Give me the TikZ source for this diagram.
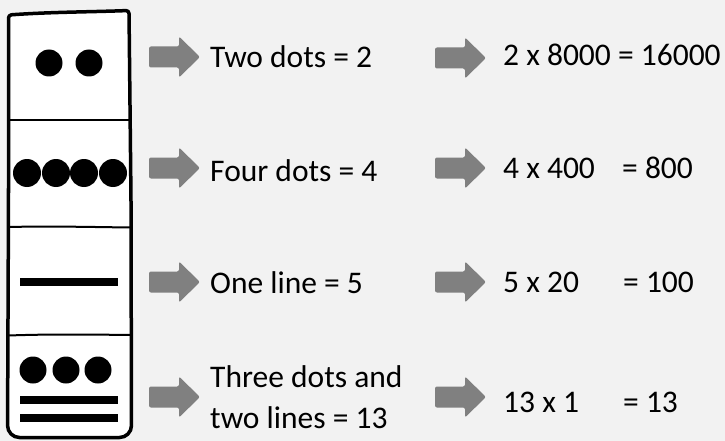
\documentclass[tikz,border=0pt]{standalone}
\usepackage{fontspec}
\setmainfont{Carlito}
\definecolor{bggray}{HTML}{F2F2F2}
\definecolor{arrgray}{HTML}{808080}
\tikzset{
  lbl/.style={anchor=base west, inner sep=0pt, font=\fontsize{31.5}{41}\selectfont},
  domline/.style={line width=3.5pt, line join=round},
  divline/.style={line width=2pt},
  bar/.style={line width=8pt},
  barrow/.pic={\fill[arrgray, rounded corners=2pt] (0,-10.5) -- (30,-10.5) -- (30,-20.5) -- (51,0) -- (30,20.5) -- (30,10.5) -- (0,10.5) -- cycle;}
}
\begin{document}
\begin{tikzpicture}[x=1pt,y=-1pt]
\fill[bggray] (0,0) rectangle (725,441);
\useasboundingbox (0,0) rectangle (725,441);
% domino
\draw[domline, fill=white] (8.5,200) [rounded corners=3pt] -- (8.5,15) .. controls (50,12) and (90,12) .. (129,10.5) -- (131,200) [rounded corners=12pt] -- (131.5,437.5) -- (7.5,437.5) -- (8.5,200) -- cycle;
\draw[divline] (8.5,120) -- (130.5,120);
\draw[divline] (8.5,227) .. controls (50,226) and (90,227) .. (130.5,227.5);
\draw[divline] (8.5,335.5) .. controls (50,334) and (90,334.5) .. (130.5,335);
% two dots
\fill (49,63) circle (13.5);
\fill (89,63) circle (13.5);
% four dots
\foreach \x in {27,56,84,113} \fill (\x,173) circle (14);
% one line
\draw[bar] (20,282) -- (118,282);
% three dots and two lines
\foreach \x in {33,66,98} \fill (\x,370) circle (13.5);
\draw[bar] (20,400) -- (118,400);
\draw[bar] (20,418) -- (118,418);
% arrows column 1
\pic (a1) at (149,57) {barrow};
\pic (a2) at (149,168) {barrow};
\pic (a3) at (149,282) {barrow};
\pic (a4) at (149,397) {barrow};
% arrows column 2
\pic (b1) at (435,58) {barrow};
\pic (b2) at (435,168) {barrow};
\pic (b3) at (435,282) {barrow};
\pic (b4) at (435,397) {barrow};
% texts column 1
\node[lbl] (t1) at (210,68) {Two dots = 2};
\node[lbl] (t2) at (210,181) {Four dots = 4};
\node[lbl] (t3) at (210,293) {One line = 5};
\node[lbl] (t4a) at (210,387) {Three dots and};
\node[lbl] (t4b) at (210,428) {two lines = 13};
% texts column 2
\node[lbl] (r1) at (503,66) {2 x 8000 = 16000};
\node[lbl] (r2) at (503,178) {4 x 400};
\node[lbl] (r2e) at (622,178) {= 800};
\node[lbl] (r3) at (503,292) {5 x 20};
\node[lbl] (r3e) at (623,292) {= 100};
\node[lbl] (r4) at (503,412) {13 x 1};
\node[lbl] (r4e) at (623,412) {= 13};
\end{tikzpicture}
\end{document}
